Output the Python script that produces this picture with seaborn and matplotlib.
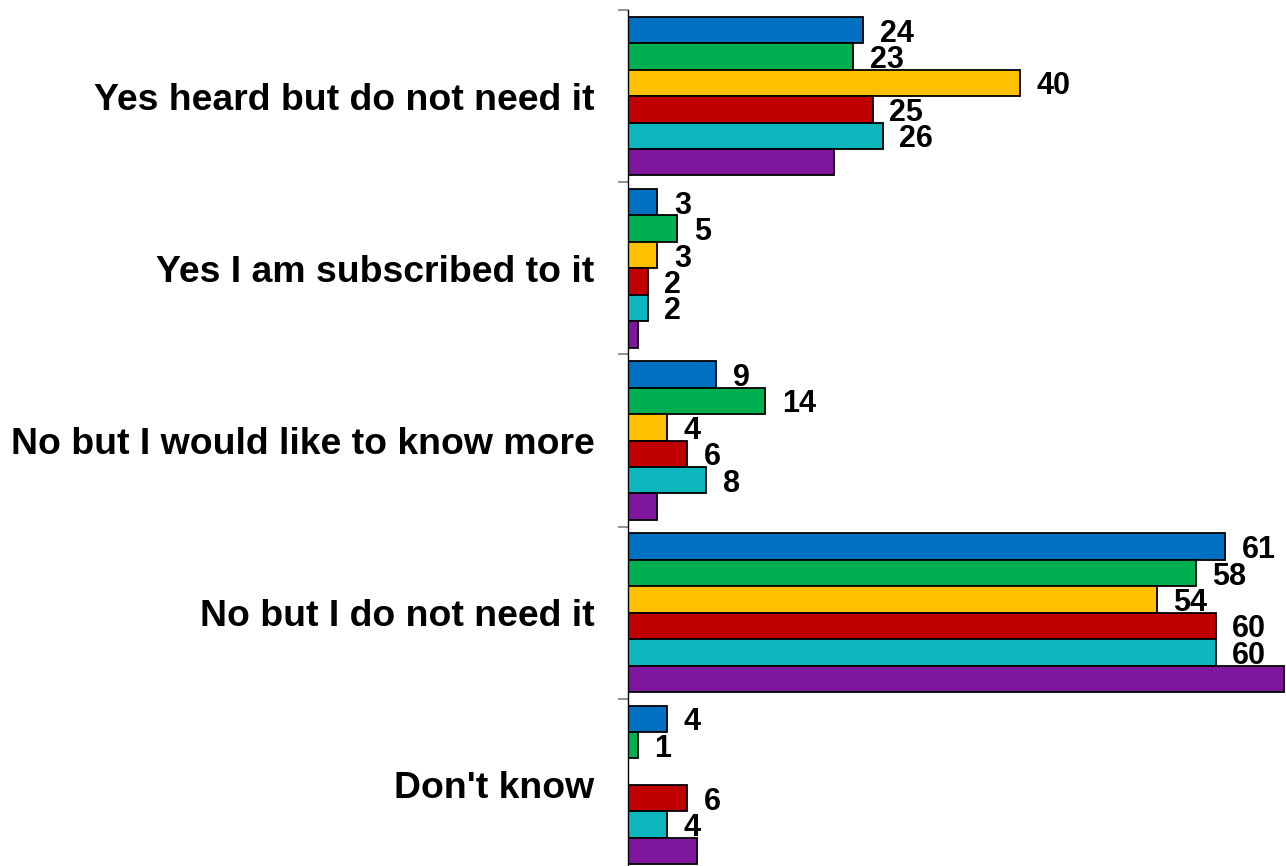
import numpy as np
import pandas as pd
import matplotlib
matplotlib.use("Agg")
import matplotlib.pyplot as plt
import seaborn as sns

# Survey answers (one row per answer) and the six respondent groups
categories = [
    "Yes heard but do not need it",
    "Yes I am subscribed to it",
    "No but I would like to know more",
    "No but I do not need it",
    "Don't know",
]
groups = ["Group 1", "Group 2", "Group 3", "Group 4", "Group 5", "Group 6"]

group_1 = [24, 3, 9, 61, 4]
group_2 = [23, 5, 14, 58, 1]
group_3 = [40, 3, 4, 54, np.nan]
group_4 = [25, 2, 6, 60, 6]
group_5 = [26, 2, 8, 60, 4]
group_6 = [21, 1, 3, 67, 7]

colors = ["#0070C0", "#00B050", "#FFC000", "#C00000", "#0BB7BC", "#7F179E"]
labelled_groups = groups[:5]

series = [group_1, group_2, group_3, group_4, group_5, group_6]
df = pd.DataFrame(
    [
        {"answer": c, "group": g, "pct": v}
        for g, vals in zip(groups, series)
        for c, v in zip(categories, vals)
    ]
)

sns.set_style("white")
plt.rcParams["font.family"] = ["Liberation Sans", "DejaVu Sans"]
plt.rcParams["font.weight"] = "bold"

fig = plt.figure(figsize=(12.86, 8.66), dpi=100)
ax = fig.add_axes([628 / 1286, -5 / 866, 658 / 1286, 861 / 866])

sns.barplot(
    data=df, y="answer", x="pct", hue="group",
    order=categories, hue_order=groups, palette=colors, saturation=1,
    orient="h", width=0.92, edgecolor="black", linewidth=1.3,
    errorbar=None, legend=False, ax=ax,
)

for container, g in zip(ax.containers, groups):
    if g not in labelled_groups:
        continue
    vals = container.datavalues
    labels = ["" if np.isnan(v) else f"{v:.0f}" for v in vals]
    texts = ax.bar_label(container, labels=labels, padding=12, fontsize=22,
                         fontweight="bold", color="black")
    # nudge the numbers down so the digits sit centred on their bar
    for t in texts:
        x0, y0 = t.xyann
        t.xyann = (x0, y0 - 2.5)

ax.set_xlim(0, 67.2)
ax.set_ylim(len(categories) - 0.5, -0.5)
ax.set_xlabel("")
ax.set_ylabel("")
ax.set_xticks([])

for side in ["top", "right", "bottom"]:
    ax.spines[side].set_visible(False)
ax.spines["left"].set_color("black")
ax.spines["left"].set_linewidth(1.0)

# Category labels sit between boundary ticks
ax.set_yticks(range(len(categories)))
ax.set_yticklabels(categories, fontsize=26.9, fontweight="bold", color="black")
ax.tick_params(axis="y", which="major", length=0, pad=24)
ax.set_yticks(np.arange(-0.5, len(categories)), minor=True)
ax.tick_params(axis="y", which="minor", left=True, length=7.5, width=1.2,
               color="#808080")

fig.savefig("out.png", dpi=100)
